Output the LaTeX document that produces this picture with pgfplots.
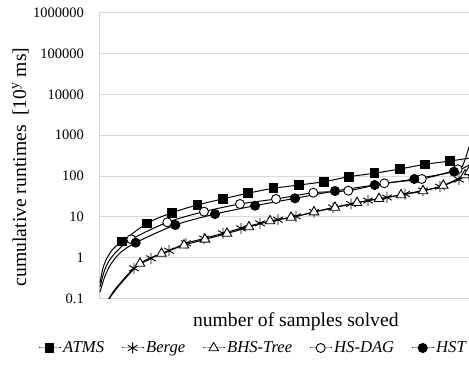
\documentclass[border=0pt]{standalone}
\usepackage{fontspec}
\setmainfont{Liberation Serif}
\usepackage{pgfplots}
\pgfplotsset{compat=1.18}
\usepackage{pgfplotstable}

\pgfplotstableread{
x y
1 0.237
4 0.553
8 0.97
14 1.62
23 2.44
48 6.89
73 12.5
98.3 19.4
123.7 27.2
148.7 37.5
174.3 49.7
200 59.8
225 72.1
250 95.5
275.3 116
301 148
326 192
351 232
370 272
}\atms

\pgfplotstableread{
x y
9.5 0.093
16 0.166
35 0.544
52 0.956
70 1.47
87 2.23
105 2.92
124 3.92
142 5.20
161 6.89
179 8.44
197 10.2
215 13.0
234 16.8
252 20.5
269 24.9
288 29.6
306 36.0
324 43.9
341 54.4
360 81.6
370 105
}\berge

\pgfplotstableread{
x y
9.5 0.092
19.7 0.200
41 0.713
62.5 1.25
85 2.00
106 2.79
128 3.88
150 5.59
171 7.85
192 9.56
215 13.0
236 16.8
258 22.0
280 27.6
302 34.0
324 42.7
344.3 58.2
366 105
370 125
}\bhs

\pgfplotstableread{
x y
1 0.189
5 0.441
10 0.821
18 1.44
32.3 2.79
68.3 7.29
105 13.3
141 20.5
177 27.2
214.3 38.7
249.3 43.4
285.3 65.9
322.7 84.0
358.7 145
365 215
370 520
}\hsdag

\pgfplotstableread{
x y
1 0.143
6 0.352
12 0.693
21 1.29
36.7 2.31
76.3 6.26
116 11.6
156 18.6
196 28.2
236 42.7
275.7 59.8
315.3 84.0
355 127
370 185
}\hst

\begin{document}
\begin{tikzpicture}
\useasboundingbox (0,0) rectangle (469bp,369bp);
\begin{axis}[
  at={(99bp,70.7bp)}, anchor=south west,
  scale only axis, width=370bp, height=285.6bp,
  ymode=log, log basis y=10,
  xmin=0, xmax=370, ymin=0.1, ymax=1000000,
  axis lines*=left,
  axis line style={draw=gray!35, line width=0.8bp},
  xtick=\empty,
  ytick={0.1,1,10,100,1000,10000,100000,1000000},
  yticklabels={0.1,1,10,100,1000,10000,100000,1000000},
  tick style={draw=none},
  minor tick num=0,
  ymajorgrids,
  grid style={gray!30, line width=0.8bp},
  yticklabel style={font=\fontsize{14.5}{16}\selectfont, anchor=east, inner sep=0pt, xshift=-15bp},
  xlabel={number of samples solved},
  xlabel style={at={(axis description cs:0.532,-0.083)}, anchor=center, font=\fontsize{19.7}{22}\selectfont},
  ylabel={cumulative runtimes\ \ [10\textsuperscript{y} ms]},
  ylabel style={at={(axis description cs:-0.212,0.46)}, anchor=center, font=\fontsize{19.7}{22}\selectfont},
  legend columns=5,
  legend style={at={(axis description cs:-0.165,-0.174)}, anchor=west, draw=none, fill=none, inner sep=0pt,
    font=\fontsize{16.7}{18}\selectfont\itshape,
    /tikz/every even column/.append style={column sep=15bp}},
  legend image code/.code={\draw[mark indices={2}] plot coordinates {(0bp,0bp) (11bp,0bp) (22bp,0bp)};},
  every axis plot/.append style={black, line width=1bp, smooth, tension=0.5},
]
\addplot[mark=square*, mark size=4.3bp, mark options={solid, fill=black}, mark indices={5,...,18}] table {\atms};
\addlegendentry{ATMS}
\addplot[mark=asterisk, mark size=5.5bp, mark options={solid, line width=0.9bp}, mark indices={2,...,21}] table {\berge};
\addlegendentry{Berge}
\addplot[mark=triangle*, mark size=5.5bp, mark options={solid, fill=white, line width=0.9bp}, mark indices={2,...,18}] table {\bhs};
\addlegendentry{BHS-Tree}
\addplot[mark=*, mark size=4.5bp, mark options={solid, fill=white, line width=0.9bp}, mark indices={5,...,14}] table {\hsdag};
\addlegendentry{HS-DAG}
\addplot[mark=*, mark size=4.5bp, mark options={solid, fill=black}, mark indices={5,...,13}] table {\hst};
\addlegendentry{HST}
\end{axis}
\end{tikzpicture}
\end{document}
